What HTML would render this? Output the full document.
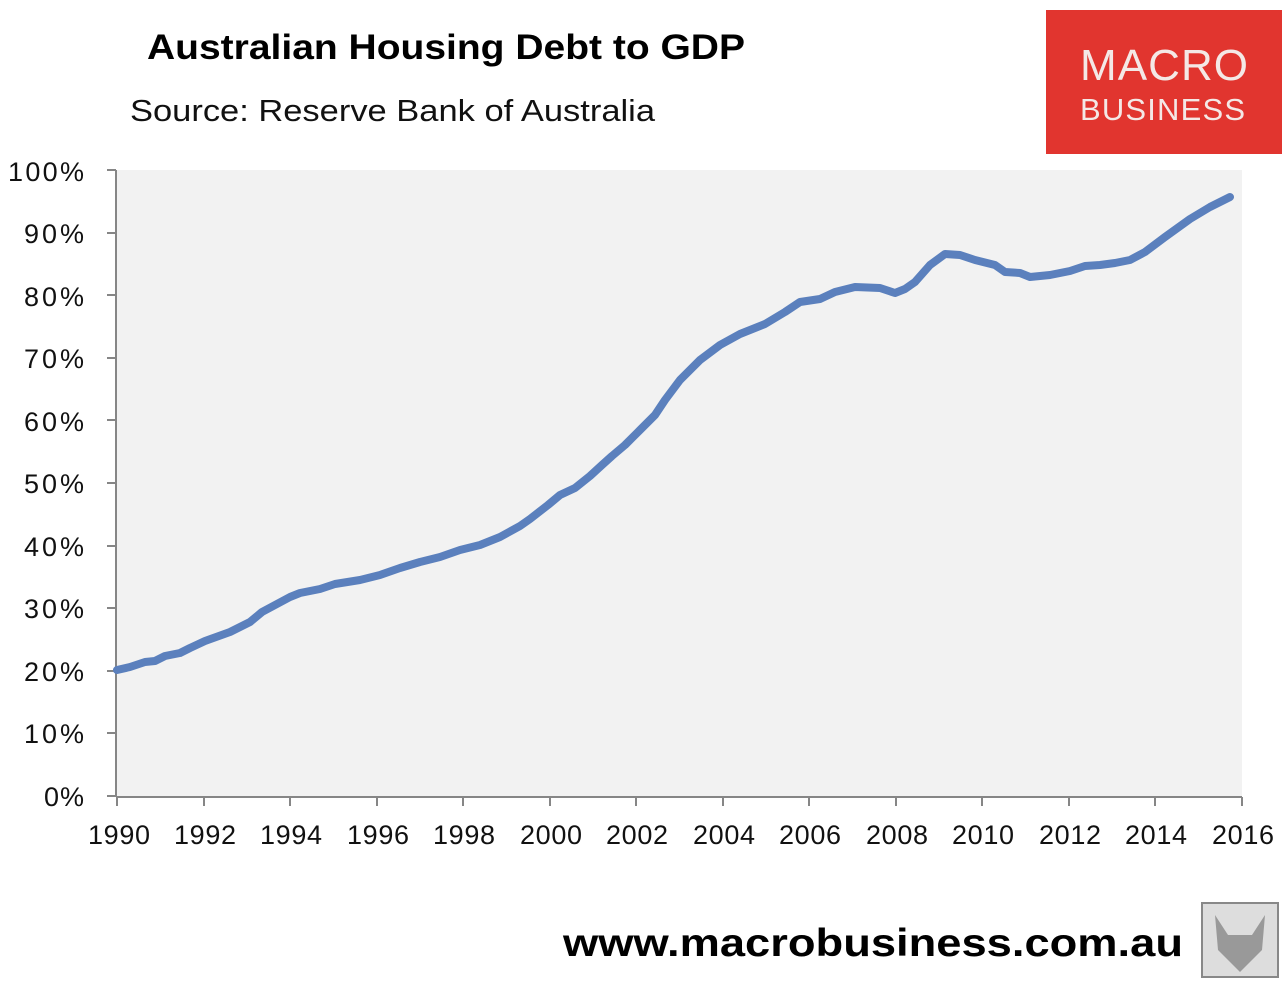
<!DOCTYPE html>
<html><head><meta charset="utf-8"><style>
body{margin:0;background:#fff;width:1284px;height:981px;overflow:hidden;font-family:"Liberation Sans",sans-serif;}
</style></head><body>
<svg width="1284" height="981" xmlns="http://www.w3.org/2000/svg" font-family="Liberation Sans, DejaVu Sans, sans-serif">
<text x="147" y="59" font-size="35" font-weight="bold" fill="#000" textLength="598" lengthAdjust="spacingAndGlyphs">Australian Housing Debt to GDP</text>
<text x="130" y="121" font-size="31" fill="#111" textLength="525" lengthAdjust="spacingAndGlyphs">Source: Reserve Bank of Australia</text>
<rect x="1046" y="10" width="236" height="144" fill="#e1352f"/>
<text x="1164" y="80" font-size="44" fill="#f4e8e6" text-anchor="middle" textLength="168">MACRO</text>
<text x="1164" y="120" font-size="31" fill="#f4e8e6" text-anchor="middle" textLength="168" letter-spacing="3">BUSINESS</text>
<rect x="117" y="170" width="1125" height="626" fill="#f2f2f2"/>
<g stroke="#868686" stroke-width="2" fill="none">
<line x1="116" y1="170" x2="116" y2="797"/>
<line x1="116" y1="797" x2="1242" y2="797"/>
</g>
<g stroke="#868686" stroke-width="2">
<line x1="107" y1="170" x2="116" y2="170"/><line x1="107" y1="233" x2="116" y2="233"/><line x1="107" y1="295" x2="116" y2="295"/><line x1="107" y1="358" x2="116" y2="358"/><line x1="107" y1="420" x2="116" y2="420"/><line x1="107" y1="483" x2="116" y2="483"/><line x1="107" y1="546" x2="116" y2="546"/><line x1="107" y1="608" x2="116" y2="608"/><line x1="107" y1="671" x2="116" y2="671"/><line x1="107" y1="733" x2="116" y2="733"/><line x1="107" y1="796" x2="116" y2="796"/>
<line x1="117" y1="797" x2="117" y2="806"/><line x1="204" y1="797" x2="204" y2="806"/><line x1="290" y1="797" x2="290" y2="806"/><line x1="377" y1="797" x2="377" y2="806"/><line x1="463" y1="797" x2="463" y2="806"/><line x1="550" y1="797" x2="550" y2="806"/><line x1="636" y1="797" x2="636" y2="806"/><line x1="723" y1="797" x2="723" y2="806"/><line x1="809" y1="797" x2="809" y2="806"/><line x1="896" y1="797" x2="896" y2="806"/><line x1="982" y1="797" x2="982" y2="806"/><line x1="1069" y1="797" x2="1069" y2="806"/><line x1="1155" y1="797" x2="1155" y2="806"/><line x1="1242" y1="797" x2="1242" y2="806"/>
</g>
<g font-size="27" fill="#111" text-anchor="end" lengthAdjust="spacingAndGlyphs">
<text x="84" y="181" textLength="76">100%</text><text x="84" y="243" textLength="60">90%</text><text x="84" y="306" textLength="60">80%</text><text x="84" y="368" textLength="60">70%</text><text x="84" y="431" textLength="60">60%</text><text x="84" y="493" textLength="60">50%</text><text x="84" y="556" textLength="60">40%</text><text x="84" y="618" textLength="60">30%</text><text x="84" y="681" textLength="60">20%</text><text x="84" y="743" textLength="60">10%</text><text x="84" y="806" textLength="40">0%</text>
</g>
<g font-size="27" fill="#111" text-anchor="middle">
<text x="119" y="844" textLength="62">1990</text><text x="205" y="844" textLength="62">1992</text><text x="291" y="844" textLength="62">1994</text><text x="378" y="844" textLength="62">1996</text><text x="464" y="844" textLength="62">1998</text><text x="551" y="844" textLength="62">2000</text><text x="637" y="844" textLength="62">2002</text><text x="724" y="844" textLength="62">2004</text><text x="810" y="844" textLength="62">2006</text><text x="897" y="844" textLength="62">2008</text><text x="983" y="844" textLength="62">2010</text><text x="1070" y="844" textLength="62">2012</text><text x="1156" y="844" textLength="62">2014</text><text x="1243" y="844" textLength="62">2016</text>
</g>
<polyline fill="none" stroke="#5b80bd" stroke-width="8" stroke-linejoin="round" stroke-linecap="round" points="117,670 130,667 145,662 155,661 165,656 180,653 190,648 205,641 230,632 250,622 262,612 290,597 300,593 320,589 335,584 360,580 380,575 400,568 420,562 440,557 460,550 480,545 500,537 520,526 530,519 548,505 560,495 575,488 590,476 602,465 612,456 625,445 640,430 655,415 665,400 680,380 700,360 720,345 740,334 765,324 785,312 800,302 820,299 835,292 855,287 880,288 895,293 905,289 915,282 930,265 945,254 960,255 975,260 995,265 1005,272 1020,273 1030,277 1050,275 1070,271 1085,266 1100,265 1115,263 1130,260 1145,252 1165,237 1190,219 1210,207 1230,197"/>
<text x="563" y="956" font-size="39" font-weight="bold" fill="#000" textLength="620" lengthAdjust="spacingAndGlyphs">www.macrobusiness.com.au</text>
<rect x="1202" y="903" width="76" height="74" fill="#ddd" stroke="#888" stroke-width="2"/>
<path d="M1215 915 L1228 935 L1252 935 L1265 915 L1262 950 L1240 972 L1218 950 Z" fill="#999"/>
</svg>
</body></html>
